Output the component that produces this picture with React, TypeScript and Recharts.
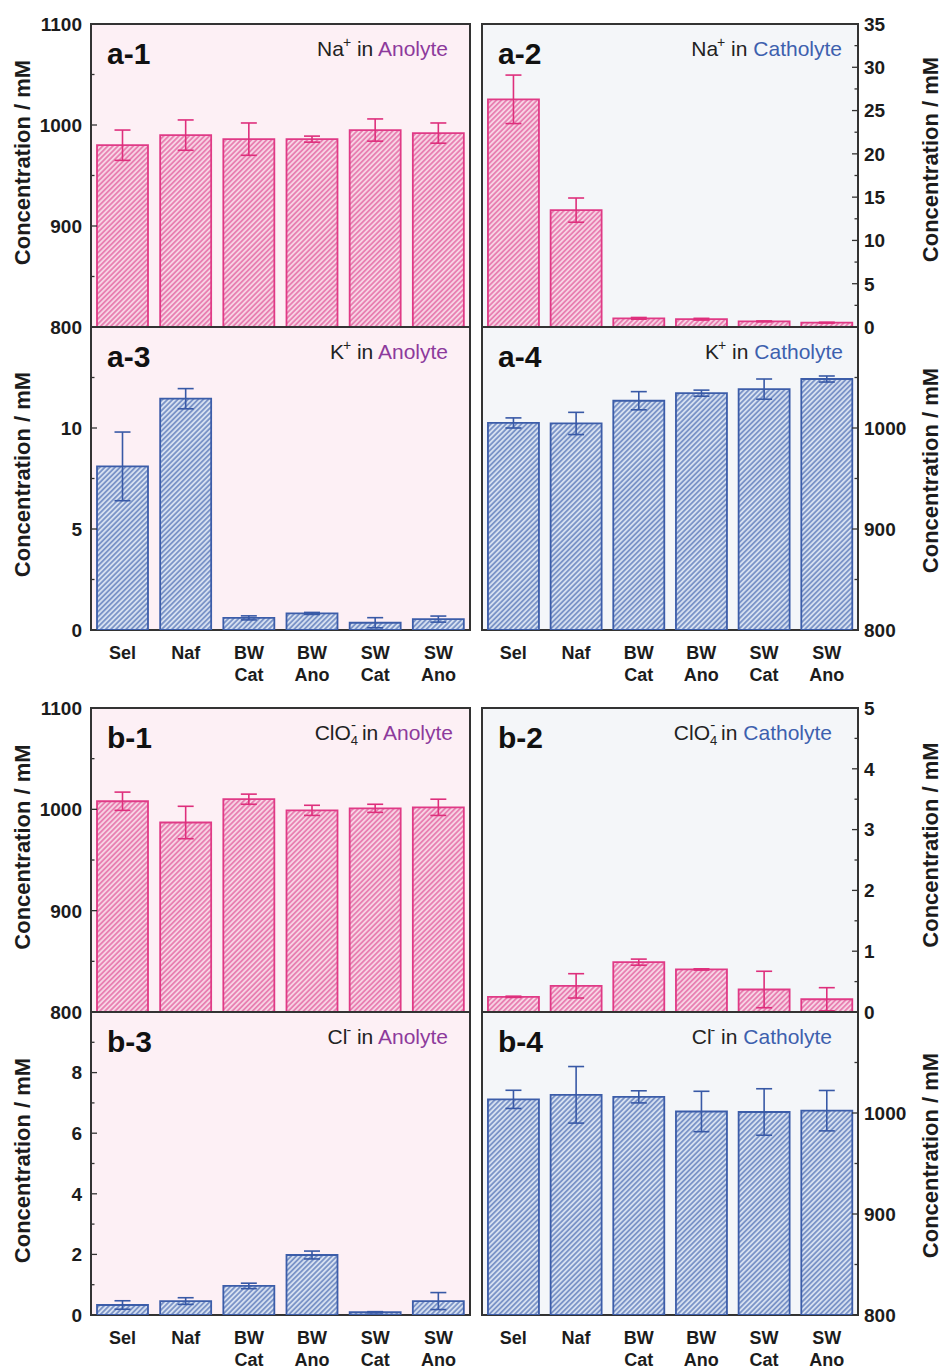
import React from 'react';
import { BarChart, Bar, XAxis, YAxis, CartesianGrid, ReferenceArea, ErrorBar } from 'recharts';

const categories = ['Sel', 'Naf', 'BW\nCat', 'BW\nAno', 'SW\nCat', 'SW\nAno'];

// a-1 Na+ in Anolyte
const naAnolyte = [980, 990, 986, 986, 995, 992];
const naAnolyteErr = [15, 15, 16, 3, 11, 10];
// a-2 Na+ in Catholyte
const naCatholyte = [26.3, 13.5, 1.0, 0.9, 0.65, 0.5];
const naCatholyteErr = [2.8, 1.4, 0.1, 0.1, 0.05, 0.05];
// a-3 K+ in Anolyte
const kAnolyte = [8.1, 11.45, 0.6, 0.82, 0.36, 0.54];
const kAnolyteErr = [1.7, 0.5, 0.1, 0.05, 0.25, 0.15];
// a-4 K+ in Catholyte
const kCatholyte = [1005, 1004.5, 1027, 1034.5, 1038.5, 1048.5];
const kCatholyteErr = [5, 11, 9, 3, 10, 3];
// b-1 ClO4- in Anolyte
const clo4Anolyte = [1008, 987, 1010, 999, 1001, 1002];
const clo4AnolyteErr = [9, 16, 5, 5, 4, 8];
// b-2 ClO4- in Catholyte
const clo4Catholyte = [0.25, 0.43, 0.82, 0.7, 0.37, 0.21];
const clo4CatholyteErr = [0.01, 0.2, 0.05, 0.01, 0.3, 0.19];
// b-3 Cl- in Anolyte
const clAnolyte = [0.33, 0.46, 0.96, 1.98, 0.09, 0.46];
const clAnolyteErr = [0.14, 0.11, 0.09, 0.13, 0.02, 0.28];
// b-4 Cl- in Catholyte
const clCatholyte = [1013.5, 1018, 1016, 1001.5, 1001, 1002.3];
const clCatholyteErr = [9, 28, 6, 20, 23, 20];

// tick values
const ticksHighAll = [800, 850, 900, 950, 1000, 1050, 1100];
const ticksHighLabeled = [800, 900, 1000, 1100];
const ticksHighLabeledNoTop = [800, 900, 1000];
const ticksNaCatAll = [0, 2.5, 5, 7.5, 10, 12.5, 15, 17.5, 20, 22.5, 25, 27.5, 30, 32.5, 35];
const ticksNaCatLabeled = [0, 5, 10, 15, 20, 25, 30, 35];
const ticksKAnAll = [0, 2.5, 5, 7.5, 10, 12.5];
const ticksKAnLabeled = [0, 5, 10];
const ticksClo4CatAll = [0, 0.5, 1, 1.5, 2, 2.5, 3, 3.5, 4, 4.5, 5];
const ticksClo4CatLabeled = [0, 1, 2, 3, 4, 5];
const ticksClAnAll = [0, 1, 2, 3, 4, 5, 6, 7, 8, 9];
const ticksClAnLabeled = [0, 2, 4, 6, 8];

const FONT = '"Liberation Sans", Arial, Helvetica, sans-serif';
const TEXT = '#1c1c1c';

const PINK = { base: '#f7d3e4', line: '#e3609e', stroke: '#e03a86', err: '#de2f7c' };
const BLUE = { base: '#d5dff0', line: '#5877b8', stroke: '#3c5da9', err: '#3859a6' };
const BG_LEFT = '#fdf0f5';
const BG_RIGHT = '#f4f6f9';
const ANO_COLOR = '#8d3a9c';
const CATH_COLOR = '#3d60ae';

const XTick = (props: any) => {
  const { x, y, payload } = props;
  const lines = String(payload.value).split('\n');
  return (
    <text x={x} y={y} textAnchor="middle" fontSize={18} fontWeight="bold" fill={TEXT} fontFamily={FONT}>
      {lines.map((l, i) => (
        <tspan key={i} x={x} dy={i === 0 ? 29 : 22}>
          {l}
        </tspan>
      ))}
    </text>
  );
};

const makeYTick = (side: 'left' | 'right', labeled: number[]) => (props: any) => {
  const { x, y, payload } = props;
  const v = payload.value;
  const major = labeled.includes(v);
  const len = major ? 6 : 3.5;
  const dir = side === 'left' ? 1 : -1;
  return (
    <g>
      <line x1={x} y1={y} x2={x + dir * len} y2={y} stroke="#333" strokeWidth={1.3} />
      {major && (
        <text
          x={side === 'left' ? x - 9 : x + 6}
          y={y}
          dy="0.36em"
          textAnchor={side === 'left' ? 'end' : 'start'}
          fontSize={19}
          fontWeight="bold"
          fill={TEXT}
          fontFamily={FONT}
        >
          {v}
        </text>
      )}
    </g>
  );
};

type PanelProps = {
  id: string;
  values: number[];
  errors: number[];
  domain: [number, number];
  ticks: number[];
  labeled: number[];
  side: 'left' | 'right';
  showX: boolean;
  theme: typeof PINK;
  plotTop: number;
  plotHeight: number;
  tag: string;
  ion: string;
  sub?: string;
  sup: string;
  where: 'Anolyte' | 'Catholyte';
  annotInset: number;
  titleDy: number;
  xHeight?: number;
};

const Panel = (p: PanelProps) => {
  const data = categories.map((c, i) => ({ cat: c, v: p.values[i], err: p.errors[i] }));
  const isLeft = p.side === 'left';
  const MT = 12;
  const MB = p.showX ? 0 : 14;
  const width = isLeft ? 480 : 472;
  const xh = p.showX ? p.xHeight ?? 60 : 0;
  const height = MT + p.plotHeight + xh + MB;
  const left = isLeft ? 0 : 470;
  const plotLeft = isLeft ? 91 : 12;
  const plotRight = isLeft ? 470 : 388;
  const pid = `hatch-${p.id}`;
  const bg = isLeft ? BG_LEFT : BG_RIGHT;
  const titleX = isLeft ? 22 : 460;
  const titleY = MT + p.plotHeight / 2 + p.titleDy;
  return (
    <div style={{ position: 'absolute', left, top: p.plotTop - MT, width, height }}>
      <BarChart
        width={width}
        height={height}
        data={data}
        margin={{ top: MT, right: isLeft ? 10 : 0, left: isLeft ? 0 : 12, bottom: MB }}
        barCategoryGap="9.5%"
      >
        <defs>
          <pattern id={pid} patternUnits="userSpaceOnUse" width={3.6} height={3.6} patternTransform="rotate(45)">
            <rect width={3.6} height={3.6} fill={p.theme.base} />
            <line x1={1.8} y1={0} x2={1.8} y2={3.6} stroke={p.theme.line} strokeWidth={1.3} />
          </pattern>
        </defs>
        <CartesianGrid horizontal={false} vertical={false} fill={bg} fillOpacity={1} />
        <XAxis
          dataKey="cat"
          hide={!p.showX}
          height={xh}
          axisLine={false}
          tickLine={false}
          tickSize={0}
          tickMargin={0}
          interval={0}
          tick={XTick}
        />
        <YAxis
          orientation={p.side}
          width={isLeft ? 91 : 84}
          type="number"
          domain={p.domain}
          ticks={p.ticks}
          allowDataOverflow
          interval={0}
          axisLine={false}
          tickLine={false}
          tickSize={0}
          tickMargin={0}
          tick={makeYTick(p.side, p.labeled)}
        />
        <Bar dataKey="v" fill={`url(#${pid})`} stroke={p.theme.stroke} strokeWidth={1.8} isAnimationActive={false}>
          <ErrorBar dataKey="err" width={8} strokeWidth={1.6} stroke={p.theme.err} direction="y" />
        </Bar>
        <ReferenceArea
          y1={p.domain[0]}
          y2={p.domain[1]}
          fill="none"
          stroke="#333"
          strokeWidth={2}
          ifOverflow="visible"
        />
        <text x={plotLeft + 16} y={MT + 40} fontSize={30} fontWeight="bold" fill="#111" fontFamily={FONT}>
          {p.tag}
        </text>
        <text
          x={plotRight - p.annotInset}
          y={MT + 32}
          textAnchor="end"
          fontSize={21}
          fill="#222"
          fontFamily={FONT}
        >
          <tspan>{p.ion}</tspan>
          {p.sub ? (
            <>
              <tspan fontSize={13} dy={5}>
                {p.sub}
              </tspan>
              <tspan fontSize={15} dx={-7} dy={-15}>
                {p.sup}
              </tspan>
              <tspan dy={10}> in </tspan>
            </>
          ) : (
            <>
              <tspan fontSize={14} dx={-1} dy={-9}>
                {p.sup}
              </tspan>
              <tspan dy={9}> in </tspan>
            </>
          )}
          <tspan fill={p.where === 'Anolyte' ? ANO_COLOR : CATH_COLOR}>{p.where}</tspan>
        </text>
        <text
          transform={`translate(${titleX}, ${titleY}) rotate(-90)`}
          textAnchor="middle"
          dominantBaseline="central"
          fontSize={22}
          fontWeight="bold"
          fill={TEXT}
          fontFamily={FONT}
        >
          Concentration / mM
        </text>
      </BarChart>
    </div>
  );
};

export default function App() {
  return (
    <div style={{ position: 'absolute', left: 0, top: 0, width: 942, height: 1370, background: '#fff', overflow: 'hidden' }}>
      <Panel id="a1" values={naAnolyte} errors={naAnolyteErr} domain={[800, 1100]} ticks={ticksHighAll}
        labeled={ticksHighLabeled} side="left" showX={false} theme={PINK} plotTop={24} plotHeight={303}
        tag="a-1" ion="Na" sup="+" where="Anolyte" annotInset={22} titleDy={-13} />
      <Panel id="a2" values={naCatholyte} errors={naCatholyteErr} domain={[0, 35]} ticks={ticksNaCatAll}
        labeled={ticksNaCatLabeled} side="right" showX={false} theme={PINK} plotTop={24} plotHeight={303}
        tag="a-2" ion="Na" sup="+" where="Catholyte" annotInset={16} titleDy={-16} />
      <Panel id="a3" values={kAnolyte} errors={kAnolyteErr} domain={[0, 15]} ticks={ticksKAnAll}
        labeled={ticksKAnLabeled} side="left" showX theme={BLUE} plotTop={327} plotHeight={303}
        tag="a-3" ion="K" sup="+" where="Anolyte" annotInset={22} titleDy={-4} xHeight={62} />
      <Panel id="a4" values={kCatholyte} errors={kCatholyteErr} domain={[800, 1100]} ticks={ticksHighAll.slice(0, 6)}
        labeled={ticksHighLabeledNoTop} side="right" showX theme={BLUE} plotTop={327} plotHeight={303}
        tag="a-4" ion="K" sup="+" where="Catholyte" annotInset={15} titleDy={-8} xHeight={62} />
      <Panel id="b1" values={clo4Anolyte} errors={clo4AnolyteErr} domain={[800, 1100]} ticks={ticksHighAll}
        labeled={ticksHighLabeled} side="left" showX={false} theme={PINK} plotTop={708} plotHeight={304}
        tag="b-1" ion="ClO" sub="4" sup="-" where="Anolyte" annotInset={17} titleDy={-13} />
      <Panel id="b2" values={clo4Catholyte} errors={clo4CatholyteErr} domain={[0, 5]} ticks={ticksClo4CatAll}
        labeled={ticksClo4CatLabeled} side="right" showX={false} theme={PINK} plotTop={708} plotHeight={304}
        tag="b-2" ion="ClO" sub="4" sup="-" where="Catholyte" annotInset={26} titleDy={-15} />
      <Panel id="b3" values={clAnolyte} errors={clAnolyteErr} domain={[0, 10]} ticks={ticksClAnAll}
        labeled={ticksClAnLabeled} side="left" showX theme={BLUE} plotTop={1012} plotHeight={303}
        tag="b-3" ion="Cl" sup="-" where="Anolyte" annotInset={22} titleDy={-3} xHeight={55} />
      <Panel id="b4" values={clCatholyte} errors={clCatholyteErr} domain={[800, 1100]} ticks={ticksHighAll.slice(0, 6)}
        labeled={ticksHighLabeledNoTop} side="right" showX theme={BLUE} plotTop={1012} plotHeight={303}
        tag="b-4" ion="Cl" sup="-" where="Catholyte" annotInset={26} titleDy={-8} xHeight={55} />
    </div>
  );
}
